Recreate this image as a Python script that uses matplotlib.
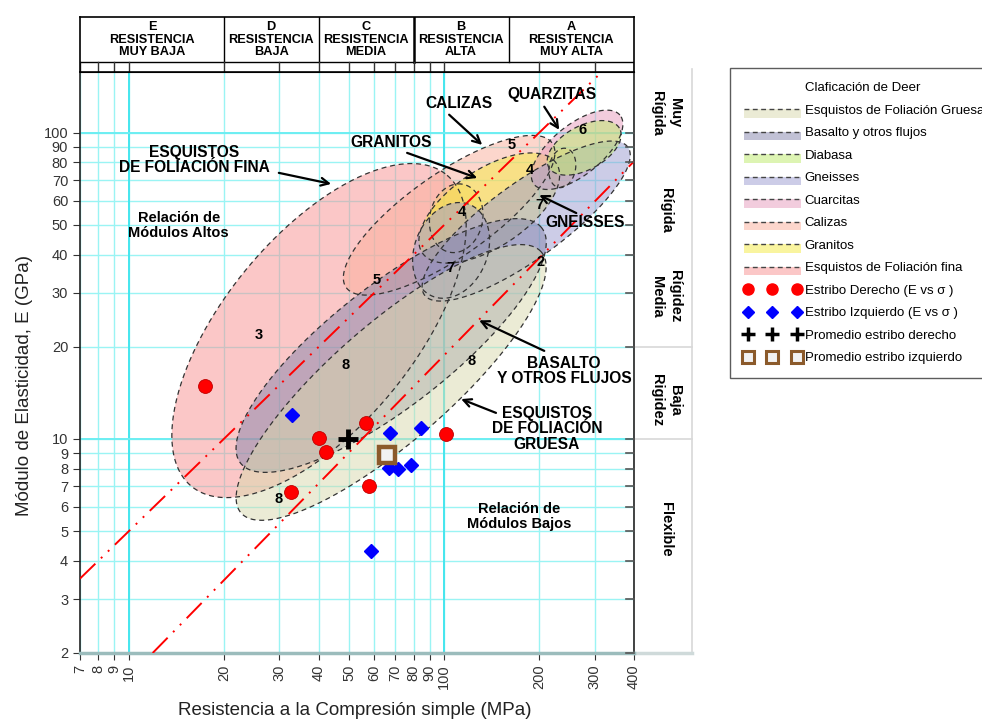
import matplotlib
matplotlib.use("Agg")
import matplotlib.pyplot as plt
import numpy as np
from matplotlib.lines import Line2D
from matplotlib.patches import Rectangle
from matplotlib.legend_handler import HandlerBase
from matplotlib.ticker import FixedLocator, FixedFormatter, NullLocator

plt.rcParams['font.family'] = ['Liberation Sans', 'DejaVu Sans']

# Deere rock zones (legend order)
zone_names = ['Esquistos de Foliación Gruesa', 'Basalto y otros flujos', 'Diabasa',
              'Gneisses', 'Cuarcitas', 'Calizas', 'Granitos', 'Esquistos de Foliación fina']
zone_colors = ['#d9d9ad', '#8585ad', '#bdeb69', '#9b9bd1', '#e79bbd', '#fbaf9b',
               '#f5eb41', '#f99191']

# ellipses in drawing order: zone index, centre (sigma MPa, E GPa),
# half axes in log10 decades, tilt (deg)
ell_zone  = [7,     6,     5,     6,     6,     4,     3,     3,     2,     1,     0]
ell_sigma = [40.1,  109.2, 103.7, 139.,  237.,  264.,  182.,  105.2, 278.,  67.9,  67.9]
ell_E     = [22.6,  52.6,  53.8,  56.8,  76.8,  88.0,  51.5,  41.3,  89.3,  20.2,  15.3]
ell_major = [0.650, 0.113, 0.403, 0.258, 0.065, 0.177, 0.403, 0.161, 0.129, 0.613, 0.639]
ell_minor = [0.305, 0.084, 0.135, 0.125, 0.042, 0.081, 0.122, 0.116, 0.071, 0.195, 0.190]
ell_angle = [52,    80,    36,    35,    80,    40,    37,    70,    30,    39,    42]

# modulus ratio lines (end points)
mr_high_sigma = [7.0, 400.0]
mr_high_E = [3.5, 200.0]
mr_low_sigma = [11.9, 400.0]
mr_low_E = [2.0, 80.7]

# test results
der_sigma = [17.5, 40.1, 42.1, 56.4, 57.8, 101.7, 32.7]
der_E = [14.9, 10.1, 9.1, 11.3, 7.0, 10.4, 6.7]
izq_sigma = [33.0, 67.4, 84.3, 66.9, 71.6, 78.4, 58.6]
izq_E = [12.0, 10.5, 10.9, 8.05, 8.0, 8.2, 4.3]
prom_der_sigma, prom_der_E = [49.7], [10.0]
prom_izq_sigma, prom_izq_E = [65.8], [8.86]

x_ticks = [7, 8, 9, 10, 20, 30, 40, 50, 60, 70, 80, 90, 100, 200, 300, 400]
y_ticks = [2, 3, 4, 5, 6, 7, 8, 9, 10, 20, 30, 40, 50, 60, 70, 80, 90, 100]

strength_bounds = [20, 40, 80, 160]
strength_labels = ['E\nRESISTENCIA\nMUY BAJA', 'D\nRESISTENCIA\nBAJA', 'C\nRESISTENCIA\nMEDIA',
                   'B\nRESISTENCIA\nALTA', 'A\nRESISTENCIA\nMUY ALTA']
stiff_labels = ['Muy\nRígida', 'Rígida', 'Rígidez\nMedia', 'Baja\nRigidez', 'Flexible']
stiff_E = [116, 55.9, 29.2, 13.4, 5.07]
stiff_bounds = [20, 10]

XLIM = (7, 400)
YLIM = (2, 158)


def ellipse_xy(sig, E, a, b, ang, n=240):
    t = np.linspace(0, 2 * np.pi, n)
    th = np.radians(ang)
    u, v = a * np.cos(t), b * np.sin(t)
    lx = np.log10(sig) + u * np.cos(th) - v * np.sin(th)
    ly = np.log10(E) + u * np.sin(th) + v * np.cos(th)
    return 10 ** lx, 10 ** ly


class ZoneHandler(HandlerBase):
    def create_artists(self, legend, orig_handle, xdescent, ydescent, width, height,
                       fontsize, trans):
        x0, y0 = -xdescent, -ydescent
        band = Rectangle((x0, y0 - 0.45 * height), width, 0.95 * height,
                         facecolor=orig_handle.get_facecolor(), edgecolor='none',
                         transform=trans)
        dash = Line2D([x0, x0 + width], [y0 + 0.5 * height] * 2, color='#444', lw=1.0,
                      ls=(0, (3.5, 2.5)), transform=trans)
        return [band, dash]


fig = plt.figure(figsize=(9.82, 7.23), dpi=100)
ax = fig.add_axes([80 / 982, 1 - 653 / 723, 554 / 982, 581 / 723])
ax.set_xscale('log')
ax.set_yscale('log')
ax.set_xlim(*XLIM)
ax.set_ylim(*YLIM)

ax.xaxis.set_major_locator(FixedLocator(x_ticks))
ax.xaxis.set_major_formatter(FixedFormatter([str(v) for v in x_ticks]))
ax.xaxis.set_minor_locator(NullLocator())
ax.yaxis.set_major_locator(FixedLocator(y_ticks))
ax.yaxis.set_major_formatter(FixedFormatter([str(v) for v in y_ticks]))
ax.yaxis.set_minor_locator(NullLocator())
ax.tick_params(axis='x', labelrotation=90, labelsize=10.5, colors='#333', length=5)
ax.tick_params(axis='y', labelsize=10.5, colors='#333', length=5)

ax.set_axisbelow(True)
ax.grid(True, which='major', color='#9af4f4', lw=1.0)
for v in (10, 100):
    ax.axvline(v, color='#45e6ee', lw=1.4, zorder=0.6)
    ax.axhline(v, color='#6ceef2', lw=1.4, zorder=0.6)

ax.spines['bottom'].set_color('#9bbcbc')
ax.spines['bottom'].set_linewidth(2.5)
ax.spines['top'].set_color('black')
for s in ('left', 'right'):
    ax.spines[s].set_color('#222')
    ax.spines[s].set_linewidth(1.2)

# zones
for z, s, e, a, b, ang in zip(ell_zone, ell_sigma, ell_E, ell_major, ell_minor, ell_angle):
    xs, ys = ellipse_xy(s, e, a, b, ang)
    ax.fill(xs, ys, facecolor=zone_colors[z], alpha=0.5, edgecolor='none', zorder=2)
    ax.plot(xs, ys, color='#333', lw=0.9, ls=(0, (4, 3)), zorder=3)

# modulus ratio lines
mr_style = dict(color='red', lw=1.4, ls=(0, (11, 4, 1, 4, 1, 4)), zorder=4)
ax.plot(mr_high_sigma, mr_high_E, **mr_style)
ax.plot(mr_low_sigma, mr_low_E, **mr_style)

# measured points
ax.plot(der_sigma, der_E, 'o', color='red', ms=10, mec='#c00000', mew=0.6, ls='none', zorder=6)
ax.plot(izq_sigma, izq_E, 'D', color='blue', ms=7, ls='none', zorder=6)
ax.plot(prom_der_sigma, prom_der_E, '+', color='black', ms=14, mew=3.5, ls='none', zorder=7)
ax.plot(prom_izq_sigma, prom_izq_E, 's', mfc='#f2f2f2', mec='#8b5a2b', ms=12, mew=3.2,
        ls='none', zorder=7)

# zone numbers
bold = dict(fontweight='bold', ha='center', va='center', zorder=8)
for txt, s, e in [('3', 25.9, 21.8), ('8', 48.5, 17.4), ('8', 122, 18.0), ('8', 29.9, 6.36),
                  ('5', 61.3, 33.0), ('5', 164, 91.3), ('4', 114, 55.1), ('4', 187.5, 75.6),
                  ('6', 274, 102), ('7', 105, 36.1), ('7', 200, 58.1), ('2', 202, 37.8)]:
    ax.text(s, e, txt, fontsize=10.5, **bold)

# rock names with pointer arrows
arrow = dict(arrowstyle='->', color='black', lw=1.6, mutation_scale=14,
             shrinkA=0, shrinkB=0)
for txt, pos in [('ESQUISTOS\nDE FOLIACIÓN FINA', (16.1, 81.5)), ('GRANITOS', (67.9, 92.7)),
                 ('CALIZAS', (111.7, 124.5)), ('QUARZITAS', (219, 133)),
                 ('GNEISSES', (280, 51)), ('BASALTO\nY OTROS FLUJOS', (240, 16.7)),
                 ('ESQUISTOS\nDE FOLIACIÓN\nGRUESA', (212, 10.8))]:
    ax.text(pos[0], pos[1], txt, fontsize=11.2, linespacing=1.05, **bold)
for tail, head in [((29.9, 74.0), (43.8, 68.1)), ((76.3, 86.0), (127.3, 71.2)),
                   ((103.7, 114.6), (132, 91.3)), ((207.7, 121.7), (231.7, 102.3)),
                   ((262.4, 54.7), (200.3, 62.6)), ((207.7, 19.4), (129.1, 24.4)),
                   ((146, 12.17), (113.2, 13.5))]:
    ax.annotate('', xy=head, xytext=tail, arrowprops=arrow, zorder=8)
ax.text(14.4, 49.9, 'Relación de\nMódulos Altos', fontsize=10.5, linespacing=1.05, **bold)
ax.text(173, 5.59, 'Relación de\nMódulos Bajos', fontsize=10.5, linespacing=1.05, **bold)

ax.set_xlabel('Resistencia a la Compresión simple (MPa)', fontsize=13.5, color='#222')
ax.set_ylabel('Módulo de Elasticidad, E (GPa)', fontsize=13.5, color='#222')
ax.xaxis.set_label_coords(0.496, -0.084)
ax.yaxis.set_label_coords(-0.085, 0.461)

# right-hand stiffness column
ytr = ax.get_yaxis_transform()
for v in y_ticks:
    ax.add_line(Line2D([0.985, 1.0], [v, v], transform=ytr, color='#555', lw=1.2,
                       clip_on=False, zorder=5))
ax.add_line(Line2D([1.105, 1.105], [YLIM[0], YLIM[1] * 1.02], transform=ytr,
                   color='#d8d8d8', lw=1.2, clip_on=False))
ax.add_line(Line2D([1.0, 1.105], [YLIM[0], YLIM[0]], transform=ytr, color='#cfdada',
                   lw=2.5, clip_on=False))
for v in stiff_bounds:
    ax.add_line(Line2D([1.0, 1.105], [v, v], transform=ytr, color='#d8d8d8', lw=1.2,
                       clip_on=False))
for txt, v in zip(stiff_labels, stiff_E):
    ax.text(1.058, v, txt, transform=ytr, rotation=-90, ha='center', va='center',
            fontsize=10.5, fontweight='bold', linespacing=1.35, clip_on=False)

# strength classes header
hax = fig.add_axes([80 / 982, 1 - 72 / 723, 554 / 982, 55 / 723])
hax.set_xscale('log')
hax.set_xlim(*XLIM)
hax.set_ylim(0, 1)
hax.set_xticks([])
hax.set_yticks([])
hax.xaxis.set_minor_locator(NullLocator())
for s in hax.spines.values():
    s.set_color('black')
    s.set_linewidth(1.2)
edges = [XLIM[0]] + strength_bounds + [XLIM[1]]
for b in strength_bounds:
    hax.plot([b, b], [0.18, 1], color='black', lw=1.8 if b == 80 else 1.0)
hax.axhline(0.18, color='black', lw=1.0)
for v in x_ticks:
    hax.plot([v, v], [0, 0.18], color='#333', lw=1.0)
for lo, hi, txt in zip(edges[:-1], edges[1:], strength_labels):
    hax.text(np.sqrt(lo * hi), 0.585, txt, ha='center', va='center', fontsize=9.2,
             fontweight='bold', linespacing=1.05)

# legend
handles = [Line2D([], [], ls='none')]
labels = ['Claficación de Deer']
for name, col in zip(zone_names, zone_colors):
    handles.append(Rectangle((0, 0), 1, 1, facecolor=col, alpha=0.5))
    labels.append(name)
handles += [Line2D([], [], marker='o', color='red', ls='none', ms=8),
            Line2D([], [], marker='D', color='blue', ls='none', ms=6),
            Line2D([], [], marker='+', color='black', ls='none', ms=10, mew=2.5),
            Line2D([], [], marker='s', mfc='#f2f2f2', mec='#8b5a2b', ls='none', ms=8,
                   mew=2.2)]
labels += ['Estribo Derecho (E vs σ )', 'Estribo Izquierdo (E vs σ )',
           'Promedio estribo derecho', 'Promedio estribo izquierdo']
leg = fig.legend(handles, labels, loc='upper left', bbox_to_anchor=(730 / 982, 1 - 68 / 723),
                 bbox_transform=fig.transFigure, fontsize=9.5, numpoints=3,
                 handlelength=4.3, handletextpad=0.3, labelspacing=0.78,
                 borderpad=1.05, borderaxespad=0, fancybox=False, frameon=True,
                 handler_map={Rectangle: ZoneHandler()})
leg.get_frame().set_edgecolor('#333')
leg.get_frame().set_linewidth(1.0)

fig.savefig('out.png', dpi=100, facecolor='white')
